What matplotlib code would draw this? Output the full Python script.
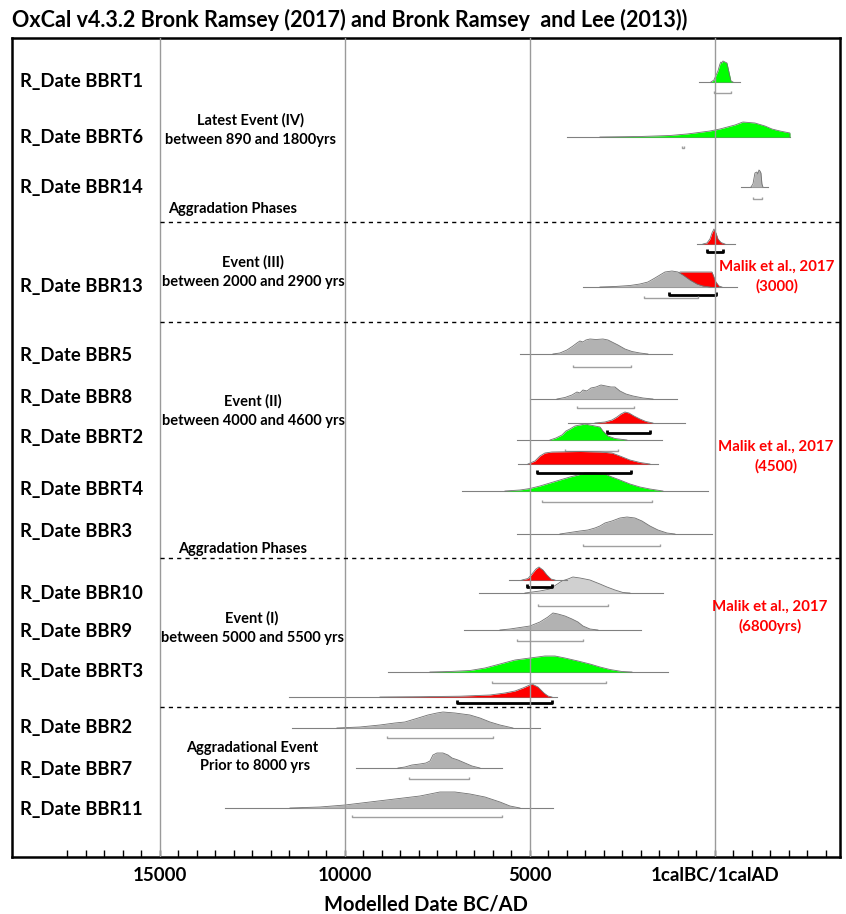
import matplotlib.pyplot as plt
import numpy as np

plt.rcParams['font.family'] = ['Lato', 'DejaVu Sans']

W, H = 846, 914

title = 'OxCal v4.3.2 Bronk Ramsey (2017) and Bronk Ramsey  and Lee (2013))'
x_label = 'Modelled Date BC/AD'
tick_years = [-15000, -10000, -5000, 0]
tick_labels = ['15000', '10000', '5000', '1calBC/1calAD']

row_labels = ['R_Date BBRT1', 'R_Date BBRT6', 'R_Date BBR14', 'R_Date BBR13',
              'R_Date BBR5', 'R_Date BBR8', 'R_Date BBRT2', 'R_Date BBRT4',
              'R_Date BBR3', 'R_Date BBR10', 'R_Date BBR9', 'R_Date BBRT3',
              'R_Date BBR2', 'R_Date BBR7', 'R_Date BBR11']

# calendar years (BC < 0), relative probability
bbrt1_yr = [-108, -27, 81, 135, 162, 189, 216, 270, 324, 378, 432, 487]
bbrt1_p = [0, 2, 11, 18, 20, 19, 21, 20, 19, 10, 1, 0]
bbrt1_span, bbrt1_rng = [-432, 676], [-27, 432]

bbrt6_yr = [-3108, -2027, -1216, -757, -541, -135, 135, 541, 757, 1081, 1351, 1541, 1757, 2027, 2027]
bbrt6_p = [0, 0.5, 1.5, 3, 4, 6, 8, 12, 15, 14, 11, 8, 6, 4, 0]
bbrt6_span, bbrt6_rng = [-4000, 2027], [-892, -850]

bbr14_yr = [973, 1027, 1081, 1135, 1162, 1189, 1216, 1243, 1270, 1297]
bbr14_p = [0, 3, 14, 15, 13, 17, 16, 14, 3, 0]
bbr14_span, bbr14_rng = [703, 1432], [1027, 1270]

bbr13a_yr = [-324, -216, -135, -81, -27, 27, 81, 162, 270]
bbr13a_p = [0, 1, 5, 11, 15, 11, 5, 1.5, 0]
bbr13a_span, bbr13a_rng = [-487, 541], [-216, 216]

bbr13_yr = [-3108, -2703, -2297, -2027, -1811, -1622, -1487, -1351, -1162, -1000, -865, -676, -487, -324, -135]
bbr13_p = [0, 0.5, 1.5, 3, 5, 9, 12, 15, 16, 15, 12, 7, 3, 1, 0]
bbr13_span, bbr13_rng = [-3568, 595], [-1919, -460]
bbr13m_yr = [-1081, -946, -81, 27, 108, 189]
bbr13m_p = [0, 15, 15, 5, 1, 0]
bbr13m_rng = [-1243, 27]

bbr5_yr = [-4379, -4190, -4000, -3838, -3730, -3649, -3568, -3487, -3379, -3216, -3027, -2892, -2784, -2622, -2433, -2243, -2027, -1811]
bbr5_p = [0, 1, 4, 8, 11, 13, 12, 14, 15, 14.5, 15, 14, 12, 9, 5, 2.5, 1, 0]
bbr5_span, bbr5_rng = [-5270, -1162], [-3838, -2270]

bbr8_yr = [-4271, -4054, -3865, -3730, -3649, -3568, -3460, -3352, -3216, -3081, -2946, -2811, -2703, -2568, -2406, -2216, -1946, -1676]
bbr8_p = [0, 1.5, 4, 7, 6, 9, 8, 11, 12, 14, 13, 12, 12, 8, 5, 3, 1, 0]
bbr8_span, bbr8_rng = [-5000, -1027], [-3730, -2189]

bbrt2m_yr = [-3244, -2973, -2784, -2649, -2541, -2433, -2324, -2189, -2027, -1865, -1676]
bbrt2m_p = [0, 1, 3, 6, 9, 11, 10, 7, 4, 1.5, 0]
bbrt2m_span, bbrt2m_rng = [-3973, -811], [-2919, -1757]

bbrt2_yr = [-4460, -4298, -4135, -4027, -3919, -3784, -3649, -3514, -3379, -3244, -3108, -3027, -2892, -2703, -2379]
bbrt2_p = [0, 2, 5, 9, 11, 14, 15, 16, 15, 14, 13, 9, 4, 1.5, 0]
bbrt2_span, bbrt2_rng = [-5352, -1432], [-4054, -2622]

bbrt4m_yr = [-5054, -4865, -4730, -4595, -4406, -3649, -3108, -2784, -2568, -2297, -2027, -1757]
bbrt4m_p = [0, 3, 8, 11, 12, 12.5, 12, 11, 8, 4, 1.5, 0]
bbrt4m_span, bbrt4m_rng = [-5325, -1541], [-4811, -2270]

bbrt4_yr = [-5676, -5270, -5000, -4730, -4460, -4190, -3919, -3703, -3514, -3244, -2973, -2784, -2568, -2297, -2027, -1757, -1405]
bbrt4_p = [0, 1, 2.5, 5, 8, 11, 14, 16, 18, 18, 17, 14, 11, 7, 4, 2, 0]
bbrt4_span, bbrt4_rng = [-6838, -189], [-4676, -1703]

bbr3_yr = [-4190, -3919, -3649, -3433, -3244, -3108, -2973, -2784, -2568, -2379, -2162, -1973, -1757, -1541, -1297, -1081]
bbr3_p = [0, 1.5, 3, 4, 6, 8, 11, 13, 16, 17, 16, 13, 8, 4, 1, 0]
bbr3_span, bbr3_rng = [-5352, -81], [-3568, -1487]

bbr10m_yr = [-5217, -5054, -4946, -4838, -4757, -4649, -4541, -4433, -4325]
bbr10m_p = [0, 1.5, 6, 11, 13, 10, 5, 1, 0]
bbr10m_span, bbr10m_rng = [-5568, -4000], [-5081, -4406]

bbr10_yr = [-5135, -4730, -4460, -4298, -4135, -3973, -3838, -3649, -3514, -3379, -3244, -3108, -2919, -2703, -2487, -2297]
bbr10_p = [0, 2, 4, 8, 12, 14, 16, 15, 14, 13, 11, 9, 6, 3, 0.5, 0]
bbr10_span, bbr10_rng = [-6379, -1405], [-4784, -2892]

bbr9_yr = [-5811, -5541, -5270, -5000, -4730, -4514, -4379, -4244, -4054, -3865, -3703, -3568, -3379, -3162]
bbr9_p = [0, 1, 2.5, 4, 8, 13, 17, 16, 14, 11, 8, 4, 1, 0]
bbr9_span, bbr9_rng = [-6784, -2000], [-5352, -3568]

bbrt3_yr = [-7703, -7163, -6622, -6217, -5811, -5406, -5000, -4595, -4325, -4054, -3703, -3379, -3108, -2838, -2514, -2243]
bbrt3_p = [0, 0.5, 1.5, 4, 8, 12, 14, 16, 16, 14, 11, 8, 5, 2.5, 0.5, 0]
bbrt3_span, bbrt3_rng = [-8838, -1270], [-6027, -2946]

bnd_yr = [-9054, -7973, -6892, -6081, -5676, -5406, -5190, -4946, -4784, -4622, -4514, -4406]
bnd_p = [0, 0.3, 0.8, 2, 4, 6, 9, 13, 10, 4, 1, 0]
bnd_span, bnd_rng = [-11514, -4271], [-6973, -4406]

bbr2_yr = [-10217, -9595, -9054, -8649, -8379, -8108, -7757, -7514, -7352, -7027, -6622, -6352, -6081, -5811, -5460]
bbr2_p = [0, 1, 3, 5, 6, 9, 13, 15, 16, 15, 13, 10, 6, 3, 0]
bbr2_span, bbr2_rng = [-11433, -4730], [-8865, -6000]

bbr7_yr = [-8568, -8379, -8190, -7973, -7811, -7703, -7622, -7514, -7352, -7216, -7108, -6946, -6757, -6568, -6352]
bbr7_p = [0, 1, 3, 4, 5, 7, 13, 15, 15, 13, 10, 8, 5, 2, 0]
bbr7_span, bbr7_rng = [-9703, -5757], [-8271, -6649]

bbr11_yr = [-11487, -10676, -10000, -9325, -8649, -7973, -7433, -7027, -6622, -6217, -5811, -5541, -5270]
bbr11_p = [0, 1, 3, 6, 9, 12, 16, 16, 14, 11, 6, 2, 0]
bbr11_span, bbr11_rng = [-13243, -4379], [-9811, -5757]

event_notes = [('Latest Event (IV)\nbetween 890 and 1800yrs', 250, 130),
               ('Event (III)\nbetween 2000 and 2900 yrs', 253, 272),
               ('Event (II)\nbetween 4000 and 4600 yrs', 253, 411),
               ('Event (I)\nbetween 5000 and 5500 yrs', 252, 628),
               ('Aggradational Event\n  Prior to 8000 yrs', 252, 757)]
phase_notes = [('Aggradation Phases', 233, 209), ('Aggradation Phases', 243, 549)]
malik_notes = [('Malik et al., 2017\n(3000)', 777, 277),
               ('Malik et al., 2017\n(4500)', 776, 457),
               ('Malik et al., 2017\n(6800yrs)', 770, 617)]
divider_y = [222, 322, 558, 707]
row_y = [82, 137, 187, 287, 355, 397, 438, 490, 531, 593, 632, 672, 728, 770, 810]

GREEN, RED, GREY, LGREY = '#00ff00', '#ff0000', '#b2b2b2', '#d0d0d0'

fig = plt.figure(figsize=(W / 100, H / 100), dpi=100)
ax = fig.add_axes([12 / W, 57 / H, 828 / W, 819 / H])
ax.set_xlim(-19000, 3380)
ax.set_ylim(857, 38)


def draw_dist(yr, p, base, color, span=None, order=3):
    yr = np.array(yr, float)
    top = base - np.array(p, float)
    if span is not None:
        ax.plot(span, [base, base], color='#808080', lw=0.8, zorder=order)
    ax.fill_between(yr, base, top, color=color, lw=0, zorder=order)
    ax.plot(yr, top, color='#707070', lw=0.6, zorder=order + 0.1)


def draw_range(rng, y, dark=False, order=4):
    c = 'black' if dark else '#a0a0a0'
    lw = 2.0 if dark else 1.0
    h = 3 if dark else 2.5
    ax.plot([rng[0], rng[0], rng[1], rng[1]], [y - h, y, y, y - h],
            color=c, lw=lw, zorder=order, solid_capstyle='butt')


draw_dist(bbrt1_yr, bbrt1_p, 82, GREEN, bbrt1_span)
draw_range(bbrt1_rng, 93)
draw_dist(bbrt6_yr, bbrt6_p, 137, GREEN, bbrt6_span)
draw_range(bbrt6_rng, 148)
draw_dist(bbr14_yr, bbr14_p, 187, GREY, bbr14_span)
draw_range(bbr14_rng, 199)

draw_dist(bbr13a_yr, bbr13a_p, 244, RED, bbr13a_span)
draw_range(bbr13a_rng, 252, dark=True)
draw_dist(bbr13m_yr, bbr13m_p, 287, RED, None, order=2)
draw_dist(bbr13_yr, bbr13_p, 287, GREY, bbr13_span, order=3)
draw_range(bbr13m_rng, 295, dark=True)
draw_range(bbr13_rng, 298)

draw_dist(bbr5_yr, bbr5_p, 354, GREY, bbr5_span)
draw_range(bbr5_rng, 367)
draw_dist(bbr8_yr, bbr8_p, 399, GREY, bbr8_span)
draw_range(bbr8_rng, 408)
draw_dist(bbrt2m_yr, bbrt2m_p, 423, RED, bbrt2m_span)
draw_range(bbrt2m_rng, 433, dark=True)
draw_dist(bbrt2_yr, bbrt2_p, 440, GREEN, bbrt2_span, order=5)
draw_range(bbrt2_rng, 451, order=2)
draw_dist(bbrt4m_yr, bbrt4m_p, 464, RED, bbrt4m_span, order=3)
draw_range(bbrt4m_rng, 473, dark=True)
draw_dist(bbrt4_yr, bbrt4_p, 491, GREEN, bbrt4_span, order=3)
draw_range(bbrt4_rng, 502)
draw_dist(bbr3_yr, bbr3_p, 534, GREY, bbr3_span)
draw_range(bbr3_rng, 546)

draw_dist(bbr10_yr, bbr10_p, 593, LGREY, bbr10_span, order=3)
draw_dist(bbr10m_yr, bbr10m_p, 580, RED, bbr10m_span, order=4)
draw_range(bbr10m_rng, 587, dark=True, order=5)
draw_range(bbr10_rng, 606)
draw_dist(bbr9_yr, bbr9_p, 630, GREY, bbr9_span)
draw_range(bbr9_rng, 641)
draw_dist(bbrt3_yr, bbrt3_p, 672, GREEN, bbrt3_span)
draw_range(bbrt3_rng, 683)
draw_dist(bnd_yr, bnd_p, 697, RED, bnd_span)
draw_range(bnd_rng, 703, dark=True)

draw_dist(bbr2_yr, bbr2_p, 728, GREY, bbr2_span)
draw_range(bbr2_rng, 738)
draw_dist(bbr7_yr, bbr7_p, 768, GREY, bbr7_span)
draw_range(bbr7_rng, 779)
draw_dist(bbr11_yr, bbr11_p, 808, GREY, bbr11_span)
draw_range(bbr11_rng, 817)

for t in tick_years:
    ax.axvline(t, color='#9a9a9a', lw=1.0, zorder=6)
for y in divider_y:
    ax.plot([-15000, 3380], [y, y], color='black', lw=1.0, ls=(0, (3, 3)), zorder=6)

ax.set_yticks([])
ax.set_xticks(tick_years)
ax.set_xticklabels(tick_labels, fontweight='bold')
ax.set_xticks(np.arange(-17500, 3001, 500), minor=True)
ax.tick_params(axis='x', which='both', direction='in', length=5, width=1.0,
               labelsize=13.5, pad=7)
for s in ax.spines.values():
    s.set_linewidth(1.8)
ax.set_xlabel(x_label, fontsize=14.5, fontweight='bold', labelpad=8)

fig.text(12 / W, 1 - 20 / H, title, fontsize=15.5, fontweight='bold',
         ha='left', va='center')

for lab, y in zip(row_labels, row_y):
    fig.text(20 / W, 1 - y / H, lab, fontsize=13.3, fontweight='bold',
             ha='left', va='center')
for txt, x, y in event_notes:
    fig.text(x / W, 1 - y / H, txt, fontsize=10.5, fontweight='bold',
             ha='center', va='center', linespacing=1.45)
for txt, x, y in phase_notes:
    fig.text(x / W, 1 - y / H, txt, fontsize=10.5, fontweight='bold',
             ha='center', va='center')
for txt, x, y in malik_notes:
    fig.text(x / W, 1 - y / H, txt, fontsize=10.8, fontweight='bold',
             color='red', ha='center', va='center', linespacing=1.45)

fig.savefig('out.png', dpi=100)
